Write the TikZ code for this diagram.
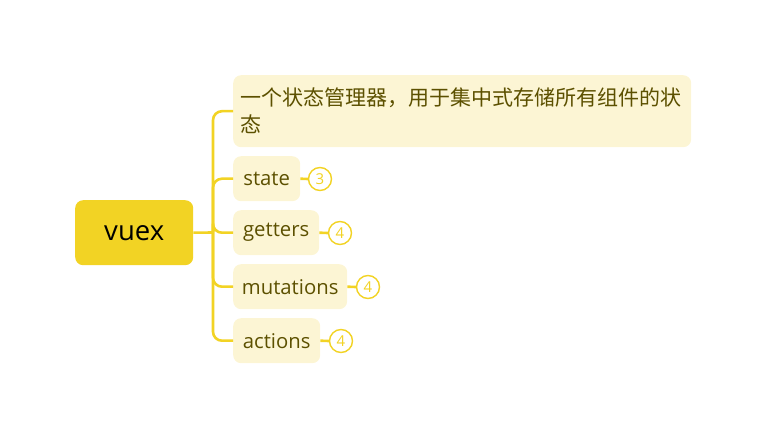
\documentclass[tikz,border=0pt]{standalone}
\usepackage{fontspec}
\setmainfont{Open Sans}
\newfontfamily\cjk{Noto Sans CJK SC}
\definecolor{rootyel}{HTML}{F2D324}
\definecolor{leaffill}{HTML}{FCF5D4}
\definecolor{leaftext}{HTML}{5C5000}
\begin{document}
\begin{tikzpicture}[x=1pt,y=-1pt,
  rootbox/.style={fill=rootyel, rounded corners=8pt, anchor=north west, inner sep=0pt, font=\fontsize{27.5}{30}\selectfont, text=black},
  leafbox/.style={fill=leaffill, rounded corners=8pt, anchor=north west, inner xsep=7.5pt, inner ysep=0pt, align=left, text=leaftext, font=\fontsize{20.3}{27}\selectfont},
  badge/.style={circle, draw=rootyel, line width=1.4pt, fill=white, inner sep=0pt, minimum size=23pt, text=rootyel, font=\fontsize{15}{16}\selectfont},
  link/.style={draw=rootyel, line width=2.6pt},
]
\useasboundingbox (0,0) rectangle (766,438);
\node[rootbox, minimum width=118pt, minimum height=65pt] (root) at (75,200) {vuex};
\node[leafbox, minimum width=458pt, minimum height=72pt, text width=443pt] (c1) at (233,75) {\cjk\fontsize{21}{27}\selectfont 一个状态管理器，用于集中式存储所有组件的状\\\cjk\fontsize{21}{27}\selectfont 态};
\node[leafbox, minimum width=67pt, minimum height=45pt] (c2) at (233,156) {state};
\node[leafbox, minimum width=86pt, minimum height=45pt] (c3) at (233,210) {getters};
\node[leafbox, minimum width=114pt, minimum height=45pt] (c4) at (233,264) {mutations};
\node[leafbox, minimum width=87pt, minimum height=45pt] (c5) at (233,318) {actions};
\node[badge] (b2) at (320,179) {3};
\node[badge] (b3) at (340,233) {4};
\node[badge] (b4) at (368,287) {4};
\node[badge] (b5) at (341,341) {4};
\coordinate (hub) at (213,232.5);
\draw[link] (root.east) -- (hub);
\foreach \c in {c1,c2,c3,c4,c5}{
  \draw[link, rounded corners=9pt] (hub) |- (\c.west);
}
\draw[link] (c2.east) -- (b2.west);
\draw[link] (c3.east) -- (b3.west);
\draw[link] (c4.east) -- (b4.west);
\draw[link] (c5.east) -- (b5.west);
\end{tikzpicture}
\end{document}
